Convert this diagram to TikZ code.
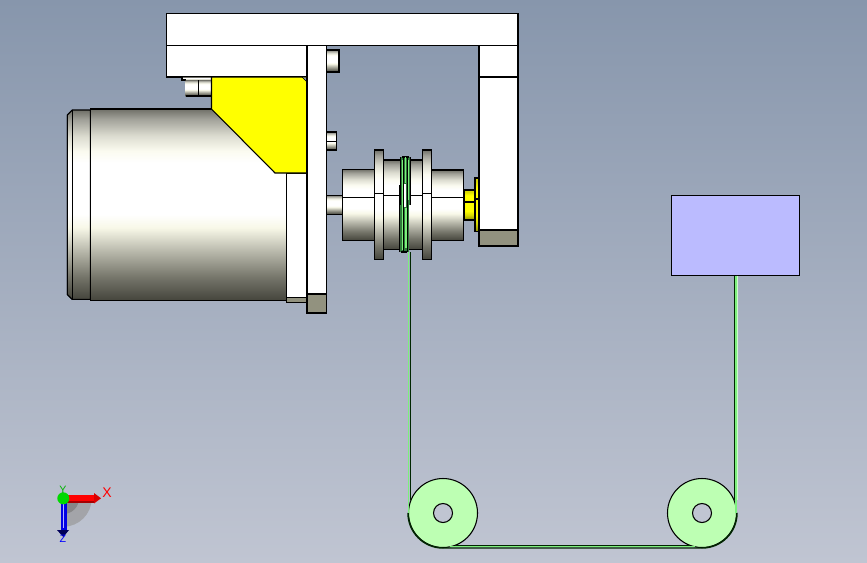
\documentclass[tikz,border=0pt]{standalone}
\usepackage{fontspec}
\setmainfont{Liberation Sans}
\definecolor{sa}{HTML}{45453C}
\definecolor{sb}{HTML}{75756A}
\definecolor{sc}{HTML}{B5B5A8}
\definecolor{sd}{HTML}{F8F8E8}
\definecolor{se}{HTML}{FFFFFF}
\definecolor{sf}{HTML}{FBFBF0}
\definecolor{sg}{HTML}{DCDCD0}
\definecolor{sh}{HTML}{A0A098}
\definecolor{si}{HTML}{707068}
\definecolor{bgtop}{HTML}{8796AC}
\definecolor{bgbot}{HTML}{C0C5D2}
\definecolor{footgray}{HTML}{92927F}
\definecolor{boxblue}{HTML}{BBBBFF}
\definecolor{pulley}{HTML}{BDFFB3}
\definecolor{beltgreen}{HTML}{7CF07C}
\definecolor{coildark}{HTML}{2E7A3A}
\definecolor{yel}{HTML}{FFFF00}
\definecolor{yeld}{HTML}{8C8C00}
\definecolor{yelm}{HTML}{D8D800}
\pgfdeclareverticalshading{cyl}{100bp}{
 color(0bp)=(sa); color(25bp)=(sa); color(31bp)=(sb); color(37.5bp)=(sc); color(44bp)=(sd); color(47.5bp)=(se); color(61bp)=(se); color(64bp)=(sf); color(68bp)=(sg); color(72.5bp)=(sh); color(75bp)=(si); color(100bp)=(si)}
\pgfdeclareverticalshading{ycyl}{100bp}{
 color(0bp)=(yeld); color(25bp)=(yeld); color(33bp)=(yelm); color(40bp)=(yel); color(66bp)=(yel); color(72bp)=(yelm); color(75bp)=(yelm); color(100bp)=(yelm)}
\tikzset{
 part/.style={draw=black,line width=0.8pt,line join=miter},
 white part/.style={part,fill=white},
 foot/.style={part,fill=footgray},
 yellow part/.style={part,fill=yel},
 yellow cylinder/.style={part,shading=ycyl},
 cylinder part/.style={part,shading=cyl},
 edge line/.style={draw=black,line width=0.8pt},
 belt line/.style={draw=beltgreen,line width=1.1pt},
 belt edge/.style={draw=black!85!green,line width=0.5pt},
 axis big/.style={font=\fontsize{10.5}{10.5}\selectfont,inner sep=0pt},
 axis small/.style={font=\fontsize{8}{8}\selectfont,inner sep=0pt}
}
\begin{document}
\begin{tikzpicture}[x=0.75pt,y=-0.75pt]
\useasboundingbox (0,0) rectangle (867,562);
\shade[top color=bgtop,bottom color=bgbot] (0,0) rectangle (867,562);
% bracket
\draw[white part] (166.5,13.5) rectangle (518,45.5);
\draw[white part] (166.5,45.5) rectangle (307,77);
% bolts
\draw[cylinder part] (326.7,50) rectangle (339,72);
\draw[cylinder part] (326.7,132) rectangle (336.5,150);
\draw[edge line] (326.7,141.5) -- (336.5,141.5);
\shade[shading=cyl] (182,77) rectangle (211.5,80);
\draw[edge line] (182,77) -- (182,80) -- (185.5,80);
\shade[shading=cyl] (185.5,80) rectangle (211.5,96);
\draw[edge line] (185.5,96) -- (211.5,96) (198.3,80) -- (198.3,96);
% motor
\draw[cylinder part] (72.3,110) -- (90.3,110) -- (90.3,299.3) -- (72.3,299.3) -- (67.3,294.5) -- (67.3,115) -- cycle;
\shade[shading=cyl,shading angle=0] (67.7,115) -- (72,111) -- (72,298.5) -- (67.7,294) -- cycle;
\draw[edge line] (72.3,110) -- (72.3,299.3);
\draw[edge line] (72.3,110) -- (67.3,115) -- (67.3,294.5) -- (72.3,299.3);
\draw[white part] (286.3,173) rectangle (307,297.3);
\draw[foot] (286.3,297.3) rectangle (307,302.5);
\draw[cylinder part] (90.3,109) rectangle (286.3,300.3);
% yellow bracket
\draw[yellow part] (211.5,77) -- (307,77) -- (307,173) -- (275,173) -- (211.5,109) -- cycle;
\fill[bgtop] (302.5,77.5) -- (306.5,77.5) -- (306.5,81.5) -- cycle;
\draw[black,line width=0.5pt] (302,77) -- (307,82);
% plate
\draw[white part] (307,45.5) rectangle (326.7,294);
\draw[foot] (307,294) rectangle (326.7,313);
% right block
\draw[white part] (479,45.5) rectangle (518,230);
\draw[edge line] (479,77) -- (518,77);
\draw[foot] (479,230) rectangle (518,246);
% yellow boss
\draw[yellow cylinder] (475,178) rectangle (479,231.7);
\draw[edge line] (475,199) -- (479,199);
\draw[yellow cylinder] (464.3,190) rectangle (475,220);
\draw[edge line] (464.3,202) -- (475,202);
% shaft and hubs
\draw[cylinder part] (326.7,195.3) rectangle (342.3,214.3);
\draw[cylinder part] (342.3,169.3) rectangle (374.3,240.3);
\draw[cylinder part] (431.3,170) rectangle (463.7,240.3);
\draw[cylinder part] (383.3,160) rectangle (422.3,249.3);
\draw[cylinder part] (374.3,150) rectangle (383.3,259.3);
\draw[cylinder part] (422.3,150) rectangle (431.3,259.3);
\draw[edge line] (342.3,197.3) -- (374.3,197.3) (374.3,193.3) -- (383.3,193.3) (383.3,195.3) -- (422.3,195.3) (422.3,193.3) -- (431.3,193.3) (431.3,197.3) -- (463.7,197.3);
% box
\draw[part,fill=boxblue] (671.5,195.5) rectangle (799.5,275.5);
% pulleys
\draw[part,fill=pulley] (443,513) circle (34.5);
\draw[part,fill=bgbot] (443,513) circle (9.5);
\draw[part,fill=pulley] (702,513) circle (34.5);
\draw[part,fill=bgbot] (702,513) circle (9.5);
% belt
\draw[belt edge,line width=1.1pt] (408,513) arc (180:90:35) -- (702,548) arc (90:0:35);
\draw[belt edge] (410,252) -- (410,500) (734.6,275.5) -- (734.6,500) (455,545.3) -- (690,545.3);
\draw[belt line] (408.3,252) -- (408.3,513) (735.8,275.5) -- (735.8,513) (450,546.7) -- (695,546.7);
\draw[white!60!beltgreen,line width=0.5pt] (737,275.5) -- (737,500);
% coil
\fill[coildark] (400.5,157) rectangle (410.6,205);
\fill[coildark] (399.3,205) rectangle (408.5,252);
\draw[black,line width=0.8pt] (400.7,157) -- (400.7,205) (399.5,185) -- (399.5,252) (403.8,157) -- (403.8,252) (407.2,157) -- (407.2,252) (410.3,157) -- (410.3,205) (401,252) -- (407,252) (402,157) -- (409,157);
\draw[beltgreen,line width=1pt] (402.3,160) -- (402.3,250) (405.5,157) -- (405.5,183) (408.8,160) -- (408.8,200) (406,208) -- (406,248);
\draw[white,line width=1.6pt] (405.3,184) -- (405.3,207);
% triad
\fill[black!40,opacity=.7] (63.3,498.3) -- (91.7,498.3) arc (0:90:28.4) -- cycle;
\fill[black!50,opacity=.8] (63.3,498.3) -- (79,498.3) arc (0:90:15.7) -- cycle;
\fill[red] (63,494.7) rectangle (95,501);
\fill[red!65!black] (63,501) rectangle (95,502.7);
\fill[red!85!black] (94,493) -- (101,498.3) -- (94,503.5) -- cycle;
\fill[blue!90!black] (60.7,498) rectangle (66.7,530);
\fill[blue!30] (62.5,503) rectangle (64,528);
\fill[blue!35!black] (57,530) -- (69,530) -- (63.3,537) -- cycle;
\fill[green!85!black] (63.3,498.3) circle (6);
\node[axis big,text=red] (xl) at (107,493) {X};
\node[axis small,text=green!70!black] (yl) at (63,489.5) {Y};
\node[axis small,text=blue] (zl) at (63,539) {Z};
\end{tikzpicture}
\end{document}
